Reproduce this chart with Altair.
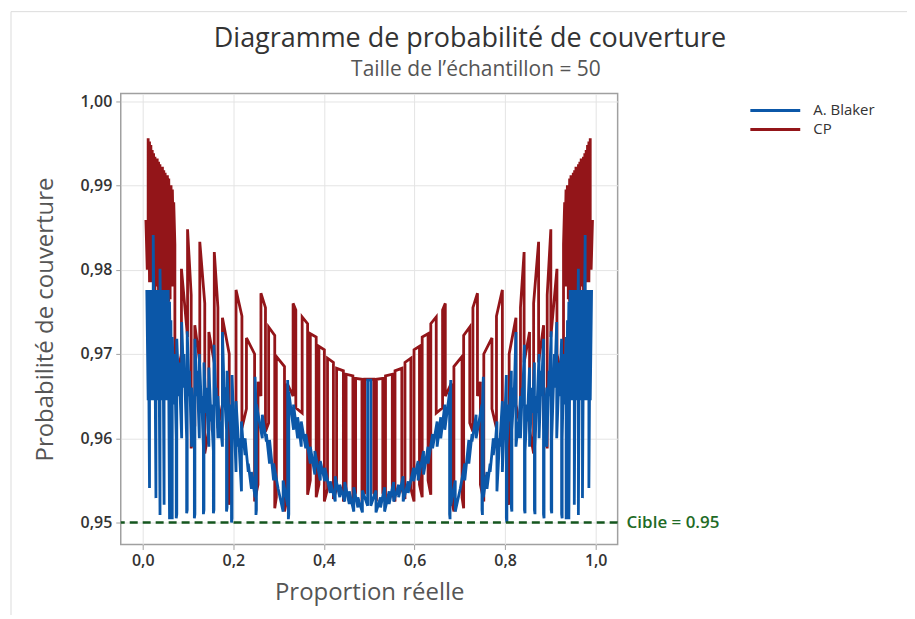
import altair as alt
import pandas as pd

BLUE = "#0B57A8"
RED = "#931519"
GREEN = "#14561E"
FONT = "Open Sans"

# ---- CP (Clopper-Pearson): breakpoints, value at start / end of each piece ----
cp_p = [0.0070, 0.0100, 0.0120, 0.0150, 0.0180, 0.0210, 0.0240, 0.0270, 0.0300, 0.0320,
        0.0350, 0.0380, 0.0410, 0.0435, 0.0465, 0.0495, 0.0525, 0.0545, 0.0575, 0.0605,
        0.0625, 0.0655, 0.0685, 0.0710, 0.0855, 0.0990, 0.1070, 0.1150, 0.1260, 0.1370,
        0.1460, 0.1580, 0.1660, 0.1760, 0.1910, 0.1960, 0.2060, 0.2190, 0.2290, 0.2470,
        0.2545, 0.2610, 0.2710, 0.2780, 0.2915, 0.2950, 0.3130, 0.3190, 0.3320, 0.3380,
        0.3520, 0.3640, 0.3700, 0.3830, 0.3890, 0.4010, 0.4080, 0.4210, 0.4280, 0.4430,
        0.4490, 0.4640, 0.4700, 0.4840, 0.4900,
        0.5100, 0.5160, 0.5300, 0.5360, 0.5510, 0.5570, 0.5720, 0.5790, 0.5920, 0.5990,
        0.6110, 0.6170, 0.6300, 0.6360, 0.6480, 0.6620, 0.6680, 0.6810, 0.6870, 0.7050,
        0.7085, 0.7220, 0.7290, 0.7390, 0.7455, 0.7530, 0.7710, 0.7810, 0.7940, 0.8040,
        0.8090, 0.8240, 0.8340, 0.8420, 0.8540, 0.8630, 0.8740, 0.8850, 0.8930, 0.9010,
        0.9145, 0.9290, 0.9315, 0.9345, 0.9375, 0.9395, 0.9425, 0.9455, 0.9475, 0.9505,
        0.9535, 0.9565, 0.9590, 0.9620, 0.9650, 0.9680, 0.9700, 0.9730, 0.9760, 0.9790,
        0.9820, 0.9850, 0.9880, 0.9900, 0.9930]
cp_s = [0.9859, 0.9850, 0.9956, 0.9952, 0.9948, 0.9942, 0.9938, 0.9934, 0.9880, 0.9932,
        0.9928, 0.9925, 0.9870, 0.9922, 0.9918, 0.9915, 0.9860, 0.9912, 0.9908, 0.9880,
        0.9900, 0.9895, 0.9880, 0.9663, 0.9801, 0.9848, 0.9588, 0.9734, 0.9833, 0.9582,
        0.9726, 0.9821, 0.9612, 0.9743, 0.9521, 0.9610, 0.9776, 0.9612, 0.9719, 0.9525,
        0.9667, 0.9772, 0.9608, 0.9732, 0.9517, 0.9697, 0.9513, 0.9665, 0.9760, 0.9636,
        0.9744, 0.9533, 0.9724, 0.9530, 0.9709, 0.9525, 0.9695, 0.9528, 0.9683, 0.9525,
        0.9676, 0.9527, 0.9671, 0.9530, 0.9670,
        0.9535, 0.9670, 0.9535, 0.9674, 0.9535, 0.9680, 0.9540, 0.9690, 0.9540, 0.9705,
        0.9545, 0.9720, 0.9550, 0.9736, 0.9630, 0.9752, 0.9650, 0.9530, 0.9685, 0.9530,
        0.9722, 0.9618, 0.9755, 0.9650, 0.9545, 0.9700, 0.9635, 0.9745, 0.9630, 0.9540,
        0.9700, 0.9640, 0.9755, 0.9690, 0.9610, 0.9760, 0.9690, 0.9615, 0.9770, 0.9720,
        0.9700, 0.9830, 0.9800, 0.9780, 0.9780, 0.9765, 0.9762, 0.9775, 0.9765, 0.9760,
        0.9760, 0.9780, 0.9770, 0.9765, 0.9765, 0.9790, 0.9780, 0.9775, 0.9775, 0.9790,
        0.9785, 0.9785, 0.9800, 0.9800]
cp_e = [0.9800, 0.9800, 0.9785, 0.9785, 0.9790, 0.9775, 0.9775, 0.9780, 0.9790, 0.9765,
        0.9765, 0.9770, 0.9780, 0.9760, 0.9760, 0.9765, 0.9775, 0.9762, 0.9765, 0.9780,
        0.9780, 0.9800, 0.9830, 0.9700, 0.9720, 0.9770, 0.9615, 0.9690, 0.9760, 0.9610,
        0.9690, 0.9755, 0.9640, 0.9700, 0.9540, 0.9630, 0.9745, 0.9635, 0.9700, 0.9545,
        0.9650, 0.9755, 0.9618, 0.9722, 0.9530, 0.9685, 0.9530, 0.9650, 0.9752, 0.9630,
        0.9736, 0.9550, 0.9720, 0.9545, 0.9705, 0.9540, 0.9690, 0.9540, 0.9680, 0.9535,
        0.9674, 0.9535, 0.9670, 0.9535, 0.9670,
        0.9530, 0.9671, 0.9527, 0.9676, 0.9525, 0.9683, 0.9528, 0.9695, 0.9525, 0.9709,
        0.9530, 0.9724, 0.9533, 0.9744, 0.9636, 0.9760, 0.9665, 0.9513, 0.9697, 0.9517,
        0.9732, 0.9608, 0.9772, 0.9667, 0.9525, 0.9719, 0.9612, 0.9776, 0.9610, 0.9521,
        0.9743, 0.9612, 0.9821, 0.9726, 0.9582, 0.9833, 0.9734, 0.9588, 0.9848, 0.9801,
        0.9663, 0.9880, 0.9895, 0.9900, 0.9880, 0.9908, 0.9912, 0.9860, 0.9915, 0.9918,
        0.9922, 0.9870, 0.9925, 0.9928, 0.9932, 0.9880, 0.9934, 0.9938, 0.9942, 0.9948,
        0.9952, 0.9956, 0.9850, 0.9859]

# ---- A. Blaker ----
bl_p = [0.0090, 0.0120, 0.0150, 0.0180, 0.0210, 0.0232, 0.0262, 0.0292, 0.0322, 0.0352,
        0.0382, 0.0412, 0.0442, 0.0472, 0.0502, 0.0532, 0.0562, 0.0592, 0.0622, 0.0652,
        0.0700, 0.0740, 0.0752, 0.0800, 0.0860, 0.0910, 0.0970, 0.0982, 0.1030, 0.1080,
        0.1140, 0.1152, 0.1200, 0.1250, 0.1300, 0.1340, 0.1352, 0.1400, 0.1460, 0.1510,
        0.1560, 0.1572, 0.1620, 0.1660, 0.1710, 0.1760, 0.1800, 0.1850, 0.1862, 0.1910,
        0.1960, 0.1972, 0.2020, 0.2060, 0.2120, 0.2180, 0.2220, 0.2260, 0.2330, 0.2400,
        0.2480, 0.2500, 0.2510, 0.2640, 0.2730, 0.2800, 0.2890, 0.2990, 0.3100, 0.3200,
        0.3215, 0.3225, 0.3330, 0.3420, 0.3500, 0.3600, 0.3700, 0.3800, 0.3920, 0.4020,
        0.4140, 0.4250, 0.4350, 0.4460, 0.4560, 0.4660, 0.4750, 0.4850, 0.4965,
        0.5035, 0.5150, 0.5250, 0.5340, 0.5440, 0.5540, 0.5650, 0.5750, 0.5860, 0.5980,
        0.6080, 0.6200, 0.6300, 0.6400, 0.6500, 0.6580, 0.6670, 0.6775, 0.6785, 0.6800,
        0.6900, 0.7010, 0.7110, 0.7200, 0.7270, 0.7360, 0.7490, 0.7500, 0.7520, 0.7600,
        0.7670, 0.7740, 0.7780, 0.7820, 0.7880, 0.7940, 0.7980, 0.8028, 0.8040, 0.8090,
        0.8138, 0.8150, 0.8200, 0.8240, 0.8290, 0.8340, 0.8380, 0.8428, 0.8440, 0.8490,
        0.8540, 0.8600, 0.8648, 0.8660, 0.8700, 0.8750, 0.8800, 0.8848, 0.8860, 0.8920,
        0.8970, 0.9018, 0.9030, 0.9090, 0.9140, 0.9200, 0.9248, 0.9260, 0.9300, 0.9348,
        0.9378, 0.9408, 0.9438, 0.9468, 0.9498, 0.9528, 0.9558, 0.9588, 0.9618, 0.9648,
        0.9678, 0.9708, 0.9738, 0.9768, 0.9790, 0.9820, 0.9850, 0.9880, 0.9910]
bl_s = [0.9776, 0.9776, 0.9776, 0.9776, 0.9776, 0.9841, 0.9776, 0.9776, 0.9776, 0.9776,
        0.9801, 0.9776, 0.9776, 0.9776, 0.9776, 0.9762, 0.9776, 0.9762, 0.9740, 0.9720,
        0.9700, 0.9505, 0.9718, 0.9690, 0.9738, 0.9700, 0.9511, 0.9727, 0.9680, 0.9660,
        0.9505, 0.9718, 0.9680, 0.9700, 0.9650, 0.9510, 0.9690, 0.9660, 0.9684, 0.9640,
        0.9511, 0.9711, 0.9660, 0.9650, 0.9620, 0.9726, 0.9660, 0.9513, 0.9680, 0.9640,
        0.9500, 0.9675, 0.9620, 0.9644, 0.9600, 0.9620, 0.9600, 0.9600, 0.9570, 0.9560,
        0.9673, 0.9509, 0.9640, 0.9628, 0.9605, 0.9598, 0.9570, 0.9540, 0.9550, 0.9669,
        0.9504, 0.9655, 0.9640, 0.9625, 0.9620, 0.9605, 0.9590, 0.9585, 0.9573, 0.9565,
        0.9549, 0.9555, 0.9545, 0.9548, 0.9537, 0.9542, 0.9530, 0.9538, 0.9669,
        0.9520, 0.9512, 0.9518, 0.9513, 0.9522, 0.9525, 0.9530, 0.9525, 0.9535, 0.9549,
        0.9550, 0.9557, 0.9570, 0.9588, 0.9590, 0.9600, 0.9610, 0.9510, 0.9640, 0.9520,
        0.9513, 0.9540, 0.9550, 0.9570, 0.9596, 0.9600, 0.9515, 0.9640, 0.9530, 0.9540,
        0.9560, 0.9580, 0.9590, 0.9537, 0.9590, 0.9560, 0.9600, 0.9505, 0.9590, 0.9620,
        0.9518, 0.9610, 0.9650, 0.9590, 0.9600, 0.9600, 0.9640, 0.9515, 0.9585, 0.9620,
        0.9590, 0.9630, 0.9515, 0.9590, 0.9630, 0.9600, 0.9650, 0.9510, 0.9600, 0.9590,
        0.9650, 0.9515, 0.9600, 0.9660, 0.9600, 0.9650, 0.9510, 0.9600, 0.9640, 0.9504,
        0.9645, 0.9504, 0.9645, 0.9645, 0.9645, 0.9521, 0.9645, 0.9645, 0.9509, 0.9645,
        0.9645, 0.9529, 0.9660, 0.9645, 0.9645, 0.9645, 0.9541, 0.9645]
bl_e = [0.9645, 0.9541, 0.9645, 0.9645, 0.9645, 0.9660, 0.9529, 0.9645, 0.9645, 0.9509,
        0.9645, 0.9645, 0.9521, 0.9645, 0.9645, 0.9645, 0.9504, 0.9645, 0.9504, 0.9640,
        0.9600, 0.9510, 0.9650, 0.9600, 0.9660, 0.9600, 0.9515, 0.9650, 0.9590, 0.9600,
        0.9510, 0.9650, 0.9600, 0.9630, 0.9590, 0.9515, 0.9630, 0.9590, 0.9620, 0.9585,
        0.9515, 0.9640, 0.9600, 0.9600, 0.9590, 0.9650, 0.9610, 0.9518, 0.9620, 0.9590,
        0.9505, 0.9600, 0.9560, 0.9590, 0.9537, 0.9590, 0.9580, 0.9560, 0.9540, 0.9530,
        0.9640, 0.9515, 0.9600, 0.9596, 0.9570, 0.9550, 0.9540, 0.9513, 0.9520, 0.9640,
        0.9510, 0.9610, 0.9600, 0.9590, 0.9588, 0.9570, 0.9557, 0.9550, 0.9549, 0.9535,
        0.9525, 0.9530, 0.9525, 0.9522, 0.9513, 0.9518, 0.9512, 0.9520, 0.9669,
        0.9538, 0.9530, 0.9542, 0.9537, 0.9548, 0.9545, 0.9555, 0.9549, 0.9565, 0.9573,
        0.9585, 0.9590, 0.9605, 0.9620, 0.9625, 0.9640, 0.9655, 0.9504, 0.9669, 0.9550,
        0.9540, 0.9570, 0.9598, 0.9605, 0.9628, 0.9640, 0.9509, 0.9673, 0.9560, 0.9570,
        0.9600, 0.9600, 0.9620, 0.9600, 0.9644, 0.9620, 0.9675, 0.9500, 0.9640, 0.9680,
        0.9513, 0.9660, 0.9726, 0.9620, 0.9650, 0.9660, 0.9711, 0.9511, 0.9640, 0.9684,
        0.9660, 0.9690, 0.9510, 0.9650, 0.9700, 0.9680, 0.9718, 0.9505, 0.9660, 0.9680,
        0.9727, 0.9511, 0.9700, 0.9738, 0.9690, 0.9718, 0.9505, 0.9700, 0.9720, 0.9740,
        0.9762, 0.9776, 0.9762, 0.9776, 0.9776, 0.9776, 0.9776, 0.9801, 0.9776, 0.9776,
        0.9776, 0.9776, 0.9841, 0.9776, 0.9776, 0.9776, 0.9776, 0.9776]

series_names = ["A. Blaker", "CP"]
target = 0.95
target_label = "Cible = 0.95"
x_ticks = [0.0, 0.2, 0.4, 0.6, 0.8, 1.0]
y_ticks = [0.95, 0.96, 0.97, 0.98, 0.99, 1.00]
title_text = "Diagramme de probabilité de couverture"
subtitle_text = "Taille de l’échantillon = 50"


def build(p, s, e, name):
    rows = []
    n = min(len(s), len(e), len(p) - 1)
    k = 0
    for i in range(n):
        rows.append({"p": p[i], "c": s[i], "serie": name, "idx": k}); k += 1
        rows.append({"p": p[i + 1], "c": e[i], "serie": name, "idx": k}); k += 1
    return pd.DataFrame(rows)


df_cp = build(cp_p, cp_s, cp_e, "CP")
df_bl = build(bl_p, bl_s, bl_e, "A. Blaker")

W, H = 498, 452
xscale = alt.Scale(domain=[-0.0485, 1.0485], nice=False, zero=False)
yscale = alt.Scale(domain=[0.9474, 1.0009], nice=False, zero=False)

x_axis = alt.Axis(values=x_ticks, title="Proportion réelle",
                  labelExpr="replace(format(datum.value, '.1f'), '.', ',')",
                  grid=True, domain=False, tickSize=5, labelPadding=3,
                  titlePadding=12)
y_axis = alt.Axis(values=y_ticks, title="Probabilité de couverture",
                  labelExpr="replace(format(datum.value, '.2f'), '.', ',')",
                  grid=True, domain=False, tickSize=5, labelPadding=4,
                  titlePadding=23)

color = alt.Color("serie:N",
                  scale=alt.Scale(domain=series_names, range=[BLUE, RED]),
                  legend=None)

cp_layer = alt.Chart(df_cp).mark_line(strokeWidth=2.8, interpolate="linear").encode(
    x=alt.X("p:Q", scale=xscale, axis=x_axis),
    y=alt.Y("c:Q", scale=yscale, axis=y_axis),
    color=color,
    order=alt.Order("idx:Q"),
)
bl_layer = alt.Chart(df_bl).mark_line(strokeWidth=2.8, interpolate="linear").encode(
    x=alt.X("p:Q", scale=xscale, axis=x_axis),
    y=alt.Y("c:Q", scale=yscale, axis=y_axis),
    color=color,
    order=alt.Order("idx:Q"),
)

df_t = pd.DataFrame({"c": [target], "label": [target_label]})
rule = alt.Chart(df_t).mark_rule(color=GREEN, strokeDash=[8, 5], strokeWidth=2.5).encode(
    y=alt.Y("c:Q", scale=yscale, axis=y_axis)
)
txt = alt.Chart(df_t).mark_text(align="left", baseline="middle", color="#1F6B26",
                                fontSize=17, font=FONT, fontWeight=600).encode(
    x=alt.value(W + 9),
    y=alt.Y("c:Q", scale=yscale, axis=y_axis),
    text="label:N",
)

df_one = pd.DataFrame({"a": [0]})
border_left = alt.Chart(df_one).mark_rule(color="#DCDCDC", strokeWidth=1).encode(
    x=alt.value(-110), y=alt.value(-82), y2=alt.value(540))
border_top = alt.Chart(df_one).mark_rule(color="#DCDCDC", strokeWidth=1).encode(
    x=alt.value(-110), x2=alt.value(800), y=alt.value(-82))

# titles as text
df_title = pd.DataFrame({"t": [title_text]})
df_sub = pd.DataFrame({"t": [subtitle_text]})
title_mark = alt.Chart(df_title).mark_text(
    align="center", baseline="alphabetic", fontSize=27, font=FONT, color="#333333"
).encode(x=alt.value(350), y=alt.value(-47), text="t:N")
sub_mark = alt.Chart(df_sub).mark_text(
    align="center", baseline="alphabetic", fontSize=21, font=FONT, color="#555555"
).encode(x=alt.value(356), y=alt.value(-18), text="t:N")

# legend drawn by hand
legend_layers = []
for name, col, ypos in [(series_names[0], BLUE, 17), (series_names[1], RED, 36)]:
    d = pd.DataFrame({"t": [name]})
    legend_layers.append(alt.Chart(d).mark_rule(color=col, strokeWidth=3).encode(
        x=alt.value(631), x2=alt.value(681), y=alt.value(ypos)))
    legend_layers.append(alt.Chart(d).mark_text(
        align="left", baseline="middle", fontSize=15, font=FONT, color="#333333"
    ).encode(x=alt.value(694), y=alt.value(ypos), text="t:N"))

chart = alt.layer(border_left, border_top, cp_layer, bl_layer, rule, txt,
                  title_mark, sub_mark, *legend_layers).properties(
    width=W, height=H,
    autosize=alt.AutoSizeParams(type="none"),
    padding={"left": 113, "top": 85, "right": 290, "bottom": 70},
    background="white",
).configure_view(
    stroke="#A0A0A0", strokeWidth=1.5
).configure_axis(
    gridColor="#E4E4E4", gridWidth=1, tickColor="#A0A0A0",
    labelFont=FONT, labelFontSize=16, labelColor="#333333", labelFontWeight=600,
    titleFont=FONT, titleFontSize=24, titleColor="#555555", titleFontWeight="normal",
)

chart.save("out.html", embed_options={"renderer": "svg", "actions": False})
